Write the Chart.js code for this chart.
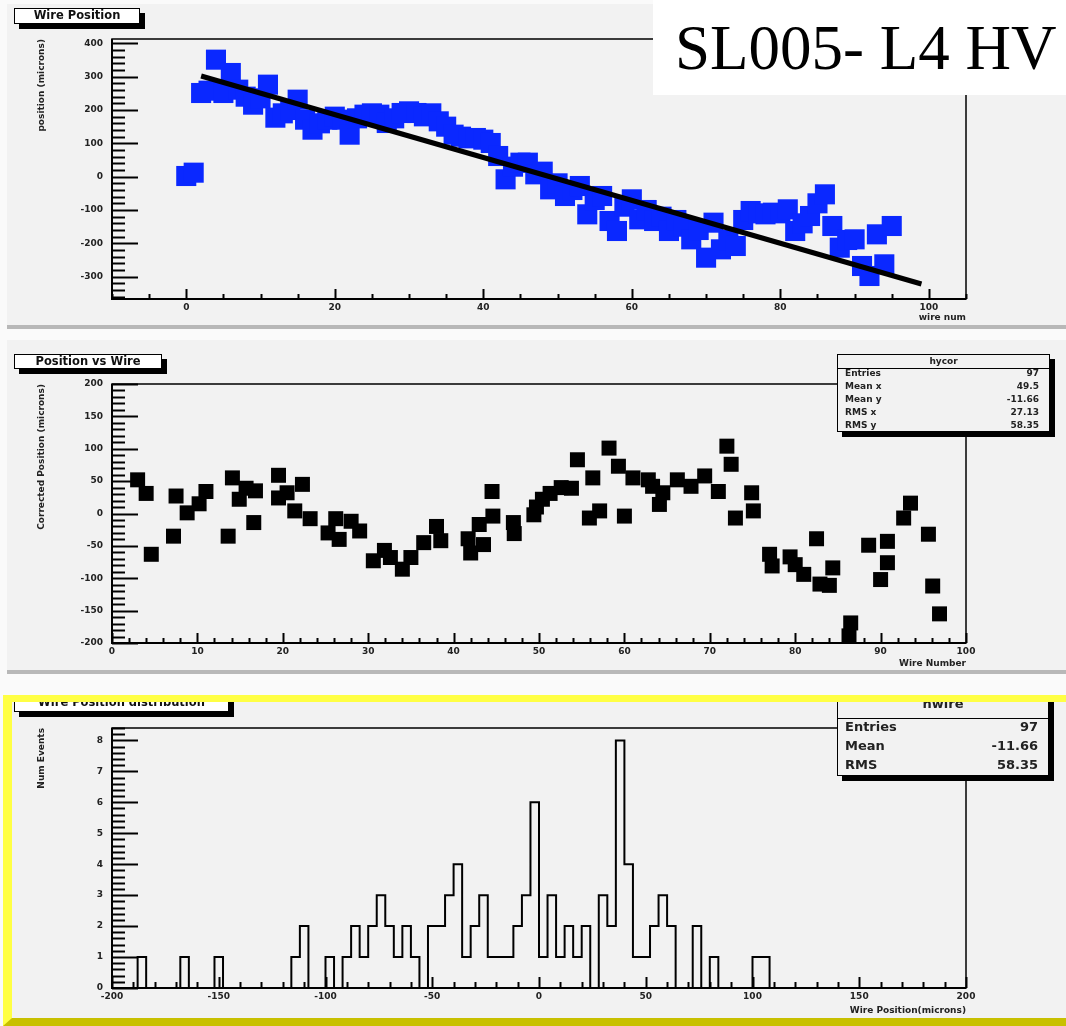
<!DOCTYPE html>
<html>
<head>
<meta charset="utf-8">
<script src="https://cdn.jsdelivr.net/npm/chart.js@4.4.0/dist/chart.umd.min.js"></script>
<style>
  body { margin: 0; background: #fafafa; }
  #wrap { position: relative; width: 1066px; height: 1026px; overflow: hidden; font-family: 'DejaVu Sans', sans-serif; }
  .pad { position: absolute; background: #f2f2f2; }
  canvas { position: absolute; left: 0; }
  .tbox { position: absolute; background: #fff; border: 1.5px solid #000; box-shadow: 5px 5px 0 #000;
          font-weight: bold; font-size: 11.5px; text-align: center; color: #111; box-sizing: border-box; }
  .stats { position: absolute; background: #f2f2f2; border: 1.5px solid #000; box-shadow: 5px 5px 0 #000;
           font-weight: bold; color: #222; box-sizing: border-box; }
  .stats .hd { border-bottom: 1.5px solid #000; text-align: center; box-sizing: border-box; }
  .stats .row { display: flex; justify-content: space-between; padding: 0 10px 0 7px; }
  #yellow { position: absolute; left: 3px; top: 695px; width: 1063px; height: 331px; box-sizing: border-box;
            border-top: 7px solid #ffff44; border-left: 9px solid #ffff44; border-bottom: 8px solid #c8c000; }
  #label { position: absolute; left: 653px; top: 0; width: 413px; height: 95px; background: #fff; }
  #label span { position: absolute; left: 22px; top: 17px; font-family: 'Liberation Serif', serif;
                font-size: 63px; line-height: 63px; color: #000; white-space: nowrap; }
</style>
</head>
<body>
<div id="wrap">
  <div class="pad" style="left:7px;top:4px;width:1059px;height:321px;border-bottom:4px solid #b8b8b8"></div>
  <div class="pad" style="left:7px;top:340px;width:1059px;height:330px;border-bottom:4px solid #b8b8b8"></div>
  <div class="pad" style="left:3px;top:695px;width:1063px;height:331px"></div>

  <canvas id="c1" width="1066" height="330" style="top:0px"></canvas>
  <canvas id="c2" width="1066" height="335" style="top:338px"></canvas>
  <canvas id="c3" width="1066" height="331" style="top:695px"></canvas>

  <div class="tbox" style="left:14px;top:8px;width:126px;height:16px;line-height:13px">Wire Position</div>
  <div class="tbox" style="left:14px;top:354px;width:148px;height:15px;line-height:12px">Position vs Wire</div>
  <div class="tbox" style="left:14px;top:697px;width:215px;height:15px;line-height:8px">Wire Position distribution</div>

  <div class="stats" style="left:837px;top:354px;width:213px;height:78px;font-size:9px">
    <div class="hd" style="height:14px;line-height:12px">hycor</div>
    <div class="row" style="line-height:13px;margin-top:-2px"><span>Entries</span><span>97</span></div>
    <div class="row" style="line-height:13px"><span>Mean x</span><span>49.5</span></div>
    <div class="row" style="line-height:13px"><span>Mean y</span><span>-11.66</span></div>
    <div class="row" style="line-height:13px"><span>RMS x</span><span>27.13</span></div>
    <div class="row" style="line-height:13px"><span>RMS y</span><span>58.35</span></div>
  </div>
  <div class="stats" style="left:837px;top:697px;width:212px;height:79px;font-size:13px">
    <div class="hd" style="height:21px;line-height:12px">hwire</div>
    <div class="row" style="line-height:19px;margin-top:-2px"><span>Entries</span><span>97</span></div>
    <div class="row" style="line-height:19px"><span>Mean</span><span>-11.66</span></div>
    <div class="row" style="line-height:19px"><span>RMS</span><span>58.35</span></div>
  </div>

  <div id="yellow"></div>
  <div id="label"><span>SL005- L4 HV</span></div>
</div>

<script>
// raw wire positions (top pad)
const topWire = [0,1,2,3,4,5,6,7,8,9,10,11,12,13,14,15,16,17,18,19,20,21,22,23,24,25,26,27,28,29,
  30,31,32,33,34,35,36,37,38,39,40,41,42,43,44,45,46,47,48,49,50,51,52,53,54,55,56,57,58,59,
  60,61,62,63,64,65,66,67,68,69,70,71,72,73,74,75,76,77,78,79,80,81,82,83,84,85,86,87,88,89,
  90,91,92,93,94,95];
const topPos = [2,12,251,258,351,251,311,261,240,216,
  235,276,177,190,200,231,171,141,160,171,
  180,171,126,175,186,190,186,161,175,191,
  196,191,181,190,166,150,126,120,115,116,
  111,101,62,-8,30,42,42,7,15,-38,
  -20,-58,-40,-28,-113,-70,-58,-133,-163,-90,
  -68,-128,-100,-133,-120,-163,-130,-150,-188,-160,
  -243,-138,-218,-190,-208,-130,-103,-110,-113,-108,
  -110,-98,-163,-140,-118,-80,-53,-148,-213,-190,
  -188,-268,-298,-173,-263,-148];
// straight line fit
const fitWire = [2, 99];
const fitPos = [302, -322];

// corrected positions (middle pad)
const midWire = [3,4,4.6,7.2,7.5,8.8,10.2,11,13.6,14.1,
  14.9,15.7,16.6,16.8,19.5,19.5,20.5,21.4,22.3,23.2,
  25.3,26.2,26.6,28,29,30.6,31.9,32.6,34,35,
  36.5,38,38.5,41.7,42,43,43.5,44.5,44.6,47,
  47.1,49.4,49.7,50.4,51.3,52.6,53.8,54.5,55.9,56.3,
  57.1,58.2,59.3,60,61,62.8,63.3,64.1,64.5,66.2,
  67.8,69.4,71,72,72.5,73,74.9,75.1,77,77.3,
  79.4,80,81,82.5,82.9,84,84.4,86.3,86.5,88.6,
  90,90.8,90.8,92.7,93.5,95.6,96.1,96.9];
const midPos = [52,31,-63,-35,27,1,15,34,-35,55,
  22,39,-14,35,59,24,32,4,45,-8,
  -30,-8,-40,-12,-27,-73,-57,-68,-86,-68,
  -45,-20,-42,-39,-61,-17,-48,34,-4,-14,
  -31,-2,10,22,31,40,39,83,-7,55,
  4,101,73,-4,55,52,42,14,32,52,
  42,58,34,104,76,-7,32,4,-63,-81,
  -67,-79,-94,-39,-109,-111,-84,-189,-169,-49,
  -102,-76,-43,-7,16,-32,-112,-155];

// histogram (bottom pad), 100 bins of 4 microns from -200
const histMin = -200;
const histBin = 4;
const histCounts = [0,0,0,1,0,0,0,0,1,0,
  0,0,1,0,0,0,0,0,0,0,
  0,1,2,0,0,1,0,1,2,1,
  2,3,2,1,2,1,0,2,2,3,
  4,1,2,3,1,1,1,2,3,6,
  1,3,1,2,1,2,0,3,2,8,
  4,1,1,2,3,2,0,0,2,0,
  1,0,0,0,0,1,1,0,0,0,
  0,0,0,0,0,0,0,0,0,0,
  0,0,0,0,0,0,0,0,0,0];

const tickFont = { family: 'DejaVu Sans', size: 9, weight: 'bold' };

// ROOT style inward ticks + frame
const rootAxes = {
  id: 'rootAxes',
  beforeDatasetsDraw(chart, args, o) {
    const { ctx, chartArea: a, scales } = chart;
    ctx.save();
    ctx.strokeStyle = '#000';
    ctx.lineWidth = 1.5;
    ctx.strokeRect(a.left, a.top, a.right - a.left, a.bottom - a.top);
    ctx.lineWidth = 2;
    ctx.beginPath();
    ctx.moveTo(a.left, a.top);
    ctx.lineTo(a.left, a.bottom);
    ctx.lineTo(a.right, a.bottom);
    const marks = (scale, t, horiz) => {
      const i0 = Math.ceil(scale.min / t.minor - 1e-6);
      const i1 = Math.floor(scale.max / t.minor + 1e-6);
      for (let i = i0; i <= i1; i++) {
        const v = i * t.minor;
        const r = v / t.major;
        const len = Math.abs(r - Math.round(r)) < 1e-6 ? t.majorLen : t.minorLen;
        const p = Math.round(scale.getPixelForValue(v)) + 0.5;
        if (horiz) { ctx.moveTo(p, a.bottom); ctx.lineTo(p, a.bottom - len); }
        else { ctx.moveTo(a.left, p); ctx.lineTo(a.left + len, p); }
      }
    };
    marks(scales.x, o.x, true);
    marks(scales.y, o.y, false);
    ctx.stroke();
    ctx.restore();
  }
};

function linScale(min, max, step, title, size, pad) {
  return {
    type: 'linear', min: min, max: max,
    grid: { display: false, drawTicks: false },
    border: { display: false },
    ticks: { stepSize: step, includeBounds: false, autoSkip: false, maxRotation: 0,
             padding: pad, font: tickFont, color: '#222' },
    title: { display: true, text: title, align: 'end', font: tickFont, color: '#222', padding: 0 },
    afterFit: s => { if (s.isHorizontal()) s.height = size; else s.width = size; }
  };
}

function baseOptions(padTop, padBottom, xs, ys, ticks) {
  return {
    responsive: false, animation: false, events: [], devicePixelRatio: 1,
    layout: { padding: { left: 36, right: 100, top: padTop, bottom: padBottom } },
    plugins: { legend: { display: false }, tooltip: { enabled: false }, rootAxes: ticks },
    scales: { x: xs, y: ys }
  };
}

// top pad
new Chart(document.getElementById('c1'), {
  type: 'scatter',
  data: {
    datasets: [{
      data: fitWire.map((w, i) => ({ x: w, y: fitPos[i] })),
      showLine: true, borderColor: '#000', borderWidth: 5, pointRadius: 0
    }, {
      data: topWire.map((w, i) => ({ x: w, y: topPos[i] })),
      pointStyle: 'rect', pointRadius: 14.2,
      backgroundColor: 'rgb(10,40,255)', borderColor: 'rgb(10,40,255)', borderWidth: 0
    }]
  },
  options: baseOptions(39, 7,
    linScale(-10, 105, 20, 'wire num', 24, 3),
    linScale(-367, 413, 100, 'position (microns)', 76, 9),
    { x: { major: 20, minor: 5, majorLen: 10, minorLen: 5 },
      y: { major: 100, minor: 20, majorLen: 26, minorLen: 13 } }),
  plugins: [rootAxes]
});

// middle pad
new Chart(document.getElementById('c2'), {
  type: 'scatter',
  data: {
    datasets: [{
      data: midWire.map((w, i) => ({ x: w, y: midPos[i] })),
      pointStyle: 'rect', pointRadius: 10.6,
      backgroundColor: '#000', borderColor: '#000', borderWidth: 0
    }]
  },
  options: baseOptions(46, 4,
    linScale(0, 100, 10, 'Wire Number', 26, 3),
    linScale(-200, 200, 50, 'Corrected Position (microns)', 76, 9),
    { x: { major: 10, minor: 2, majorLen: 10, minorLen: 5 },
      y: { major: 50, minor: 10, majorLen: 26, minorLen: 13 } }),
  plugins: [rootAxes]
});

// bottom pad: histogram outline, each count held over its own bin
const histPts = histCounts.map((c, i) => ({ x: histMin + i * histBin, y: c }));
histPts.push({ x: histMin + histCounts.length * histBin, y: 0 });

new Chart(document.getElementById('c3'), {
  type: 'line',
  data: {
    datasets: [{
      data: histPts, stepped: 'before', borderColor: '#000', borderWidth: 2,
      pointRadius: 0, fill: false
    }]
  },
  options: baseOptions(33, 10,
    linScale(-200, 200, 50, 'Wire Position(microns)', 28, 3),
    linScale(0, 8.4, 1, 'Num Events', 76, 9),
    { x: { major: 50, minor: 10, majorLen: 11, minorLen: 6 },
      y: { major: 1, minor: 0.2, majorLen: 26, minorLen: 13 } }),
  plugins: [rootAxes]
});
</script>
</body>
</html>
